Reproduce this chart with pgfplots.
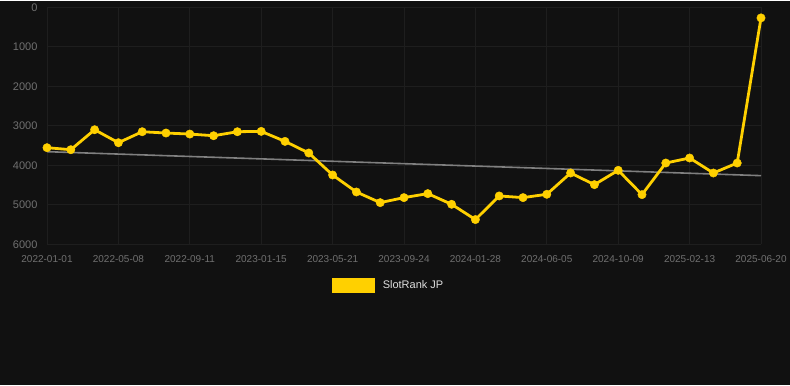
\documentclass[border=0pt]{standalone}
\usepackage{fontspec}
\setmainfont{Liberation Sans}
\usepackage{pgfplots}
\pgfplotsset{compat=1.18}
\definecolor{bg}{HTML}{111111}
\definecolor{gridc}{HTML}{1E1E1E}
\definecolor{tickc}{HTML}{707070}
\definecolor{gold}{HTML}{FFD000}
\definecolor{trend}{HTML}{808080}
\definecolor{legtext}{HTML}{DDDDDD}
\begin{document}
\begin{tikzpicture}
\fill[bg] (0pt,0pt) rectangle (790pt,-384pt);
\begin{axis}[
  at={(404pt,-124.5pt)}, anchor=center,
  scale only axis, width=714pt, height=237pt,
  xmin=0, xmax=10, ymin=0, ymax=6000, y dir=reverse,
  xtick={0,1,...,10},
  xticklabels={2022-01-01,2022-05-08,2022-09-11,2023-01-15,2023-05-21,2023-09-24,2024-01-28,2024-06-05,2024-10-09,2025-02-13,2025-06-20},
  ytick={0,1000,...,6000},
  scaled y ticks=false,
  yticklabel style={font=\fontsize{11}{13}\selectfont, text=tickc, xshift=-6pt, /pgf/number format/.cd, fixed, 1000 sep={}},
  xticklabel style={font=\fontsize{10}{12}\selectfont, text=tickc, yshift=-8pt},
  /pgf/number format/assume math mode=true,
  major tick length=0pt,
  grid=major, grid style={gridc, line width=0.8pt},
  axis line style={draw=none},
  legend style={at={(0.4785,-0.173)}, anchor=center, draw=none, fill=none, text=legtext, font=\fontsize{11}{13}\selectfont, inner sep=0pt, /tikz/every even column/.append style={column sep=0pt}},
  legend image code/.code={\fill[gold] (0pt,-6pt) rectangle (40pt,6pt); \path (46pt,0pt);},
  clip=false,
]
\addplot[trend, line width=1.6pt, no markers, forget plot] coordinates {(0,3657) (10,4264)};
\addplot[gold, line width=2.8pt, mark=*, mark size=4.2pt, mark options={solid, fill=gold, draw=gold, line width=0.4pt}] table[x expr=\thisrow{k}/3, y=v] {
k v
0 3556
1 3607
2 3101
3 3430
4 3152
5 3185
6 3211
7 3253
8 3152
9 3143
10 3396
11 3691
12 4247
13 4677
14 4947
15 4820
16 4719
17 4989
18 5376
19 4778
20 4820
21 4736
22 4197
23 4492
24 4129
25 4744
26 3944
27 3817
28 4197
29 3944
30 270
};
\addlegendentry{SlotRank JP}
\end{axis}
\end{tikzpicture}
\end{document}
